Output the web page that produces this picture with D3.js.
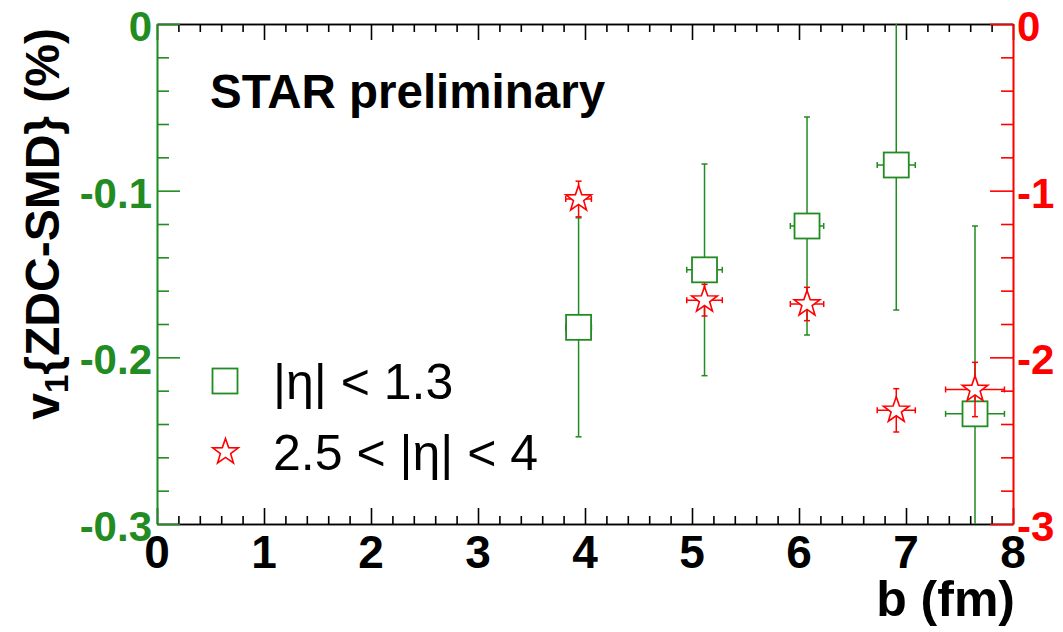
<!DOCTYPE html>
<html>
<head>
<meta charset="utf-8">
<script src="https://cdn.jsdelivr.net/npm/d3@7"></script>
<style>
  html, body { margin: 0; padding: 0; background: #fff; }
  svg { display: block; }
  text { font-family: "Liberation Sans", Arial, Helvetica, sans-serif; }
</style>
</head>
<body>
<svg id="chart" width="1063" height="632"></svg>
<script>
// Impact parameter bins (fm) and their horizontal half-widths
const bValues = [3.94, 5.117, 6.075, 6.909, 7.645];
const bErrors = [0.12, 0.166, 0.156, 0.178, 0.275];

// v1{ZDC-SMD} (%) for |eta| < 1.3, read on the left (green) axis
const v1Mid = [-0.182, -0.1475, -0.1212, -0.0846, -0.2339];
const v1MidErr = [0.0657, 0.0635, 0.0654, 0.087, 0.1127];

// v1{ZDC-SMD} (%) for 2.5 < |eta| < 4, read on the right (red) axis
const v1Fwd = [-1.05, -1.657, -1.68, -2.318, -2.193];
const v1FwdErr = [0.107, 0.095, 0.1, 0.13, 0.163];

// Tick labels
const xTickLabels = ["0", "1", "2", "3", "4", "5", "6", "7", "8"];
const leftTickLabels = ["0", "-0.1", "-0.2", "-0.3"];
const rightTickLabels = ["0", "-1", "-2", "-3"];

// Legend entries
const legendLabels = ["|\u03b7| < 1.3", "2.5 < |\u03b7| < 4"];

const GREEN = "#228b22";
const RED = "#ff0000";

const svg = d3.select("#chart");
const frame = { left: 157, right: 1013, top: 24, bottom: 524 };

const x = d3.scaleLinear().domain([0, 8]).range([frame.left, frame.right]);
const yL = d3.scaleLinear().domain([-0.3, 0]).range([frame.bottom, frame.top]);
const yR = d3.scaleLinear().domain([-3, 0]).range([frame.bottom, frame.top]);

svg.append("defs").append("clipPath").attr("id", "plotClip")
  .append("rect")
  .attr("x", frame.left).attr("y", frame.top)
  .attr("width", frame.right - frame.left).attr("height", frame.bottom - frame.top);

// ---- axes ----
const AXIS_W = 1.6;
function styleAxis(g, color) {
  g.selectAll("path.domain").attr("stroke", color).attr("stroke-width", AXIS_W);
  g.selectAll(".tick line").attr("stroke", color).attr("stroke-width", AXIS_W);
  g.selectAll(".tick text").remove();
}

const xMajor = d3.range(0, 9);
const xMinor = d3.range(0, 41).map(i => i * 0.2).filter(v => Math.abs(v - Math.round(v)) > 1e-6);

// bottom and top (black)
[[frame.bottom, d3.axisBottom], [frame.top, d3.axisTop]].forEach(([ypos, ax]) => {
  svg.append("g").attr("transform", `translate(0,${ypos})`)
    .call(ax(x).tickValues(xMajor).tickSize(-16).tickSizeOuter(0).tickFormat(""))
    .call(g => styleAxis(g, "#000"));
  svg.append("g").attr("transform", `translate(0,${ypos})`)
    .call(ax(x).tickValues(xMinor).tickSize(-8).tickSizeOuter(0).tickFormat(""))
    .call(g => styleAxis(g, "#000"));
});

// left (green)
const yLMajor = [0, -0.1, -0.2, -0.3];
const yLMinor = d3.range(0, 16).map(i => -i * 0.02).filter(v => Math.abs(v * 10 - Math.round(v * 10)) > 1e-6);
svg.append("g").attr("transform", `translate(${frame.left},0)`)
  .call(d3.axisLeft(yL).tickValues(yLMajor).tickSize(-23).tickSizeOuter(0).tickFormat(""))
  .call(g => styleAxis(g, GREEN));
svg.append("g").attr("transform", `translate(${frame.left},0)`)
  .call(d3.axisLeft(yL).tickValues(yLMinor).tickSize(-12).tickSizeOuter(0).tickFormat(""))
  .call(g => styleAxis(g, GREEN));

// right (red)
const yRMajor = [0, -1, -2, -3];
const yRMinor = d3.range(0, 16).map(i => -i * 0.2).filter(v => Math.abs(v - Math.round(v)) > 1e-6);
svg.append("g").attr("transform", `translate(${frame.right},0)`)
  .call(d3.axisRight(yR).tickValues(yRMajor).tickSize(-23).tickSizeOuter(0).tickFormat(""))
  .call(g => styleAxis(g, RED));
svg.append("g").attr("transform", `translate(${frame.right},0)`)
  .call(d3.axisRight(yR).tickValues(yRMinor).tickSize(-12).tickSizeOuter(0).tickFormat(""))
  .call(g => styleAxis(g, RED));

// ---- tick labels ----
svg.append("g").selectAll("text").data(xMajor).join("text")
  .attr("x", d => x(d)).attr("y", 568)
  .attr("text-anchor", "middle")
  .attr("font-size", 46).attr("font-weight", "bold").attr("fill", "#000")
  .text((d, i) => xTickLabels[i]);

svg.append("g").selectAll("text").data(yLMajor).join("text")
  .attr("x", 152).attr("y", d => yL(d) + 17)
  .attr("text-anchor", "end")
  .attr("font-size", 42).attr("font-weight", "bold").attr("fill", GREEN)
  .text((d, i) => leftTickLabels[i]);

svg.append("g").selectAll("text").data(yRMajor).join("text")
  .attr("x", 1017).attr("y", d => yR(d) + 17)
  .attr("text-anchor", "start")
  .attr("font-size", 42).attr("font-weight", "bold").attr("fill", RED)
  .text((d, i) => rightTickLabels[i]);

// ---- axis titles ----
svg.append("text")
  .attr("x", frame.right + 2).attr("y", 616)
  .attr("text-anchor", "end")
  .attr("font-size", 50).attr("font-weight", "bold")
  .text("b (fm)");

const yTitle = svg.append("text")
  .attr("transform", `translate(59,${frame.top + 4}) rotate(-90)`)
  .attr("text-anchor", "end")
  .attr("font-size", 48).attr("font-weight", "bold");
yTitle.append("tspan").text("v");
yTitle.append("tspan").attr("font-size", 33).attr("dy", 9).text("1");
yTitle.append("tspan").attr("dy", -9).text("{ZDC-SMD} (%)");

svg.append("text")
  .attr("x", 210).attr("y", 108)
  .attr("font-size", 47.5).attr("font-weight", "bold")
  .text("STAR preliminary");

// ---- markers ----
const SQ = 25;        // square side
const STAR_R = 13.5;  // star outer radius
const CAP = 6;        // error bar end cap length

function starPath(r) {
  const inner = r * 0.4;
  const pts = [];
  for (let k = 0; k < 10; k++) {
    const rad = k % 2 === 0 ? r : inner;
    const ang = -Math.PI / 2 + k * Math.PI / 5;
    pts.push([rad * Math.cos(ang), rad * Math.sin(ang)]);
  }
  return "M" + pts.map(p => p[0].toFixed(2) + "," + p[1].toFixed(2)).join("L") + "Z";
}

function drawSeries(values, errors, yScale, color, kind) {
  const rows = values.map((v, i) => ({ b: bValues[i], be: bErrors[i], v, ve: errors[i] }));
  const g = svg.append("g").attr("clip-path", "url(#plotClip)");
  const bars = g.append("g").attr("stroke", color).attr("stroke-width", 1.5).attr("fill", "none");
  rows.forEach(d => {
    const cx = x(d.b), cy = yScale(d.v);
    const y1 = yScale(d.v + d.ve), y2 = yScale(d.v - d.ve);
    const x1 = x(d.b - d.be), x2 = x(d.b + d.be);
    bars.append("line").attr("x1", cx).attr("x2", cx).attr("y1", y1).attr("y2", y2);
    bars.append("line").attr("x1", cx - CAP / 2).attr("x2", cx + CAP / 2).attr("y1", y1).attr("y2", y1);
    bars.append("line").attr("x1", cx - CAP / 2).attr("x2", cx + CAP / 2).attr("y1", y2).attr("y2", y2);
    bars.append("line").attr("x1", x1).attr("x2", x2).attr("y1", cy).attr("y2", cy);
    bars.append("line").attr("x1", x1).attr("x2", x1).attr("y1", cy - CAP / 2).attr("y2", cy + CAP / 2);
    bars.append("line").attr("x1", x2).attr("x2", x2).attr("y1", cy - CAP / 2).attr("y2", cy + CAP / 2);
  });
  const marks = g.append("g");
  if (kind === "square") {
    marks.selectAll("rect").data(rows).join("rect")
      .attr("x", d => x(d.b) - SQ / 2).attr("y", d => yScale(d.v) - SQ / 2)
      .attr("width", SQ).attr("height", SQ)
      .attr("fill", "#fff").attr("stroke", color).attr("stroke-width", 1.8);
  } else {
    marks.selectAll("path").data(rows).join("path")
      .attr("transform", d => `translate(${x(d.b)},${yScale(d.v)})`)
      .attr("d", starPath(STAR_R))
      .attr("fill", "#fff").attr("stroke", color).attr("stroke-width", 1.6);
  }
}

drawSeries(v1Mid, v1MidErr, yL, GREEN, "square");
drawSeries(v1Fwd, v1FwdErr, yR, RED, "star");

// ---- legend ----
const legend = svg.append("g");
legend.append("rect")
  .attr("x", 225 - SQ / 2).attr("y", 381 - SQ / 2).attr("width", SQ).attr("height", SQ)
  .attr("fill", "#fff").attr("stroke", GREEN).attr("stroke-width", 1.8);
legend.append("path")
  .attr("transform", "translate(225.5,452)")
  .attr("d", starPath(STAR_R))
  .attr("fill", "#fff").attr("stroke", RED).attr("stroke-width", 1.6);
legend.selectAll("text").data(legendLabels).join("text")
  .attr("x", 273).attr("y", (d, i) => 399 + i * 71)
  .attr("font-size", 50)
  .text(d => d);
</script>
</body>
</html>
